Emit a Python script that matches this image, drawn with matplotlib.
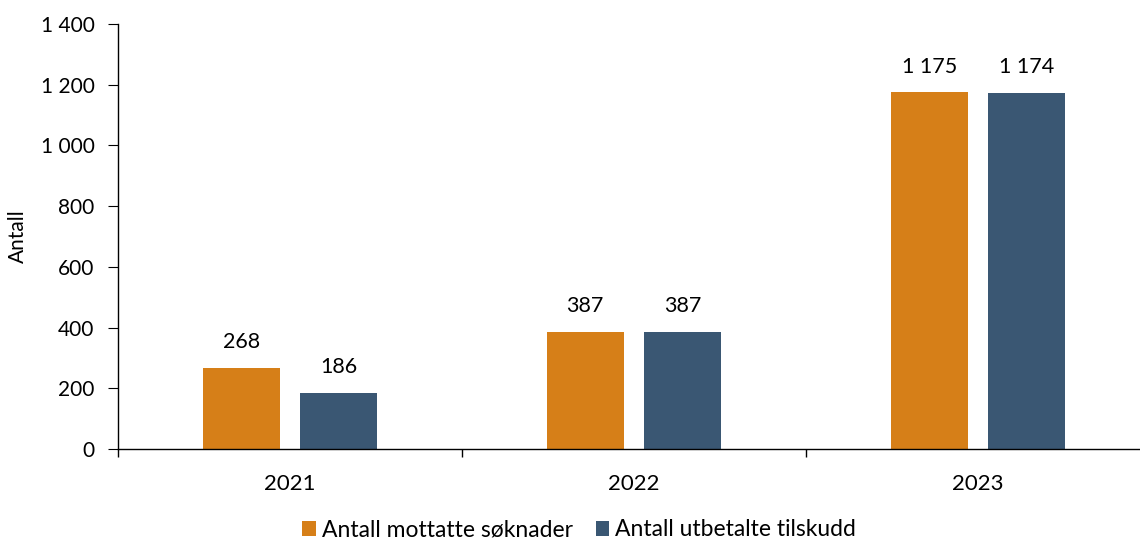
import matplotlib
matplotlib.use("Agg")
import matplotlib.pyplot as plt
import numpy as np
from matplotlib.ticker import FuncFormatter

plt.rcParams['font.family'] = ['Lato', 'DejaVu Sans']

years = ['2021', '2022', '2023']
mottatte = [268, 387, 1175]
utbetalte = [186, 387, 1174]
series_names = ['Antall mottatte søknader', 'Antall utbetalte tilskudd']
colors = ['#D67F18', '#3A5773']


def fmt(v, pos=None):
    return f'{int(v):,}'.replace(',', ' ')


fig = plt.figure(figsize=(11.4, 5.42), dpi=100)
ax = fig.add_axes([118 / 1140, 93 / 542, 1032 / 1140, 425 / 542])

x = np.arange(len(years))
w = 0.224
off = 0.142
b1 = ax.bar(x - off, mottatte, w, color=colors[0], label=series_names[0])
b2 = ax.bar(x + off, utbetalte, w, color=colors[1], label=series_names[1])

for bars in (b1, b2):
    for rect in bars:
        h = rect.get_height()
        ax.text(rect.get_x() + rect.get_width() / 2, h + 85, fmt(h),
                ha='center', va='center', fontsize=15.5)

ax.set_xlim(-0.5, 2.5)
ax.set_ylim(0, 1400)
ax.set_yticks(range(0, 1401, 200))
ax.yaxis.set_major_formatter(FuncFormatter(fmt))
ax.set_xticks([-0.5, 0.5, 1.5, 2.5])
ax.set_xticklabels([])
ax.set_xticks(x, minor=True)
ax.set_xticklabels(years, minor=True)
ax.tick_params(axis='x', which='major', length=6, direction='out', width=1)
ax.tick_params(axis='x', which='minor', length=0, labelsize=16, pad=18)
ax.tick_params(axis='y', length=7, direction='out', labelsize=15, pad=10)
for s in ['top', 'right']:
    ax.spines[s].set_visible(False)
ax.spines['left'].set_linewidth(1)
ax.spines['bottom'].set_linewidth(1)
ax.set_ylabel('Antall', fontsize=15)
ax.yaxis.set_label_coords(-90 / 1032, 0.5)

fig.legend(loc='center', bbox_to_anchor=(0.508, 1 - 530 / 542), ncol=2, frameon=False,
           fontsize=16.5, handlelength=0.6, handleheight=0.6, handletextpad=0.25,
           columnspacing=1.0)

fig.savefig('out.png', dpi=100)
